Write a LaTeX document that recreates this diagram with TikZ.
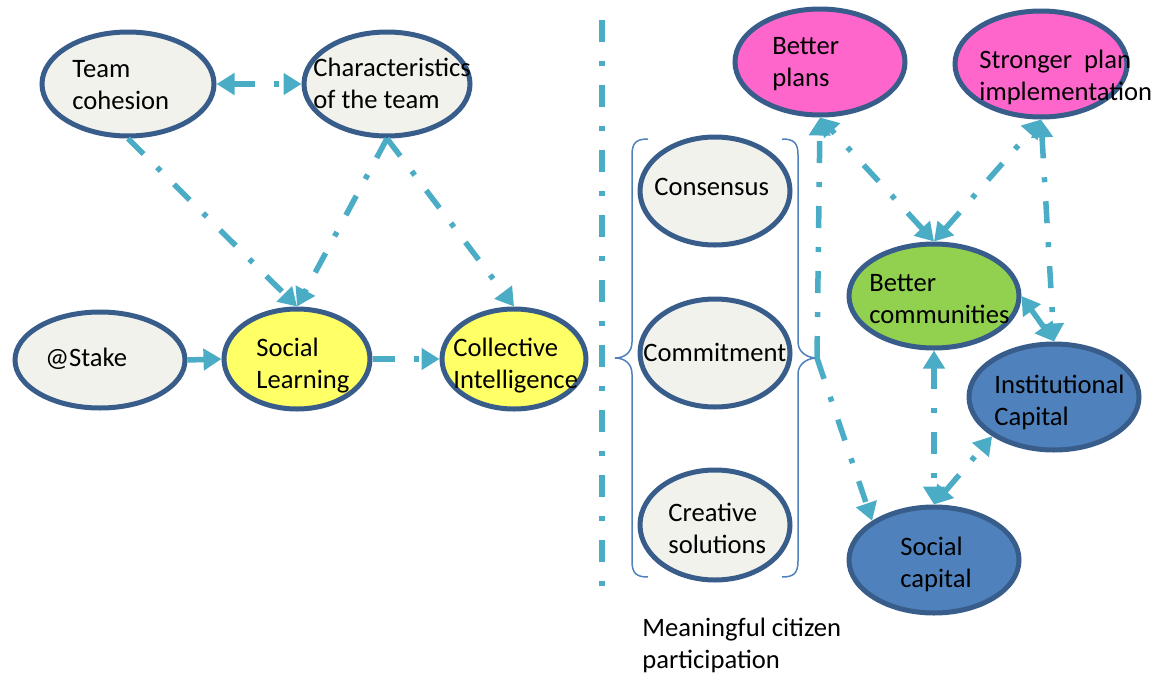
\documentclass[tikz,border=0pt]{standalone}
\usepackage{fontspec}
\setmainfont{Carlito}
\usepackage{tikz}
\usetikzlibrary{shapes, arrows.meta, positioning}
\definecolor{OvalFill}{RGB}{242,242,236}
\definecolor{OvalEdge}{RGB}{56,93,138}
\definecolor{Lemon}{RGB}{255,255,102}
\definecolor{Pink}{RGB}{255,102,204}
\definecolor{Leaf}{RGB}{146,208,80}
\definecolor{Steel}{RGB}{79,129,189}
\definecolor{Flow}{RGB}{75,172,198}
\tikzset{
	oval/.style={ellipse, draw=OvalEdge, line width=2.5pt, fill=OvalFill, inner sep=0pt, minimum width=85pt, minimum height=53pt},
	lbl/.style={font=\fontsize{13.3pt}{16pt}\selectfont, align=left, anchor=base west, inner sep=0pt},
	flow/.style={draw=Flow, line width=2.75pt, dash pattern=on 11pt off 9.5pt on 2.5pt off 9.5pt},
	solidflow/.style={draw=Flow, line width=2.75pt},
	brace/.style={draw=Steel, line width=0.75pt},
}

\begin{document}
\begin{tikzpicture}[x=0.5pt, y=-0.5pt, >={Triangle[length=9pt, width=10.5pt]}]
	\useasboundingbox (0,0) rectangle (1168,675);

	% team side
	\node[oval, minimum width=86pt, minimum height=52pt] (tc) at (128,84) {};
	\node[oval, minimum width=83pt, minimum height=52pt] (ct) at (387,84) {};
	\node[oval, minimum width=85pt, minimum height=48pt] (st) at (100,360) {};
	\node[oval, fill=Lemon, minimum width=73pt, minimum height=50pt] (sl) at (297,359) {};
	\node[oval, fill=Lemon, minimum width=72pt, minimum height=50pt] (ci) at (514,359) {};

	% base = last line
	\node[lbl] (tc-txt) at (72,109) {Team\\cohesion};
	\node[lbl] (ct-txt) at (313,108) {Characteristics\\of the team};
	\node[lbl] (st-txt) at (45,366) {@Stake};
	\node[lbl] (sl-txt) at (256,388) {Social\\Learning};
	\node[lbl] (ci-txt) at (453,388) {Collective\\Intelligence};

	\draw[flow, <->] (tc.east) -- (ct.west);
	\draw[flow, ->] (tc.south) -- (sl.north);
	\draw[flow, ->] (ct.south) -- (sl.north);
	\draw[flow, ->] (ct.south) -- (ci.north);
	\draw[solidflow, ->] (st.east) -- (sl.west);
	\draw[flow, ->] (sl.east) -- (ci.west);

	% separator
	\draw[Flow, line width=3pt, dash pattern=on 11pt off 9.5pt on 2.5pt off 9.5pt] (602,20) -- (602,600);

	% participation
	\node[oval, minimum width=75pt, minimum height=54pt] (cs) at (715,191) {};
	\node[oval, minimum width=75pt, minimum height=54pt] (cm) at (715,353) {};
	\node[oval, minimum width=75pt, minimum height=55pt] (cr) at (715,525) {};

	\node[lbl] (cs-txt) at (654,195) {Consensus};
	\node[lbl] (cm-txt) at (643,361) {Commitment};
	\node[lbl] (cr-txt) at (668,553) {Creative\\solutions};

	\draw[brace] (648,139) .. controls (636,139) and (632,143) .. (632,155) -- (632,342)
		.. controls (632,352) and (625,358) .. (615,358) .. controls (625,358) and (632,364) .. (632,374)
		-- (632,561) .. controls (632,573) and (636,577) .. (648,577);
	\draw[brace] (782,139) .. controls (794,139) and (798,143) .. (798,155) -- (798,342)
		.. controls (798,352) and (807,358) .. (817,358) .. controls (807,358) and (798,364) .. (798,374)
		-- (798,561) .. controls (798,573) and (794,577) .. (782,577);
	\coordinate (mcp) at (817,358);

	\node[lbl] (mcp-txt) at (642,668) {Meaningful citizen\\participation};

	% outcomes
	\node[oval, fill=Pink] (bp) at (820,62) {};
	\node[oval, fill=Pink, minimum width=86pt] (sp) at (1041,64) {};
	\node[oval, fill=Leaf, minimum height=52pt] (bc) at (934,296) {};
	\node[oval, fill=Steel] (ic) at (1054,397) {};
	\node[oval, fill=Steel] (sc) at (934,560) {};

	\node[lbl] (bp-txt) at (772,86) {Better\\plans};
	\node[lbl] (sp-txt) at (979,100) {Stronger\ \ plan\\implementation};
	\node[lbl] (bc-txt) at (869,323) {Better\\communities};
	\node[lbl] (ic-txt) at (994,425) {Institutional\\Capital};
	\node[lbl] (sc-txt) at (900,587) {Social\\capital};

	\draw[flow, ->] (mcp) -- (bp.south);
	\draw[flow, ->] (mcp) -- (sc.north west);
	\draw[flow, <->] (bc.north) -- (bp.south);
	\draw[flow, <->] (bc.north) -- (sp.south);
	\draw[flow, <->] (sp.south) -- (ic.north);
	\draw[flow, <->] (bc.east) -- (ic.north);
	\draw[flow, <->] (bc.south) -- (sc.north);
	\draw[flow, <->] (sc.north) -- (ic.south west);
\end{tikzpicture}
\end{document}
